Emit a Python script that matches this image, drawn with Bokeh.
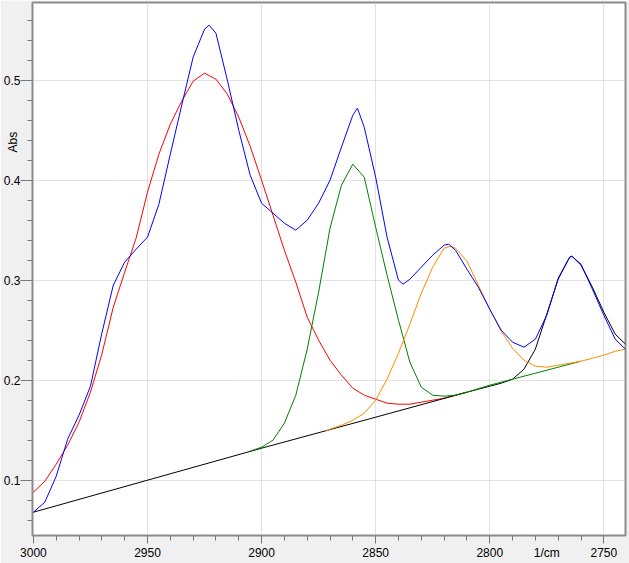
from bokeh.plotting import figure
from bokeh.models import Range1d, FixedTicker, LinearAxis
from bokeh.embed import file_html
from bokeh.resources import INLINE

# ---- data ----
blue_x = [3000, 2995, 2990, 2985, 2980, 2975, 2970, 2965, 2960, 2955, 2950, 2945, 2940,
          2935, 2930, 2925, 2923, 2920, 2915, 2910, 2905, 2900, 2895, 2890, 2885, 2880,
          2875, 2870, 2865, 2860, 2858, 2855, 2850, 2845, 2840, 2838, 2835, 2830, 2825,
          2820, 2818, 2815, 2810, 2805, 2800, 2795, 2790, 2785, 2780, 2775, 2770, 2765,
          2764, 2760, 2755, 2750, 2745, 2740.5]
blue_y = [0.068, 0.078, 0.104, 0.141, 0.165, 0.194, 0.247, 0.295, 0.318, 0.331, 0.343, 0.376, 0.426,
          0.475, 0.523, 0.551, 0.555, 0.547, 0.500, 0.450, 0.405, 0.377, 0.367, 0.357, 0.350, 0.360,
          0.377, 0.400, 0.433, 0.465, 0.472, 0.453, 0.403, 0.343, 0.300, 0.296, 0.301, 0.313, 0.325,
          0.335, 0.336, 0.330, 0.311, 0.293, 0.271, 0.250, 0.238, 0.233, 0.241, 0.265, 0.302, 0.323,
          0.324, 0.316, 0.291, 0.265, 0.241, 0.231]

red_x = [3000, 2995, 2990, 2985, 2980, 2975, 2970, 2965, 2960, 2955, 2950, 2945, 2940, 2935,
         2930, 2925, 2920, 2915, 2910, 2905, 2900, 2895, 2890, 2885, 2880, 2875, 2870, 2865,
         2860, 2855, 2850, 2845, 2840, 2835, 2830, 2825, 2820, 2815, 2810]
red_y = [0.088, 0.099, 0.116, 0.135, 0.158, 0.188, 0.226, 0.273, 0.308, 0.342, 0.388, 0.426, 0.456, 0.479,
         0.499, 0.507, 0.501, 0.486, 0.463, 0.434, 0.400, 0.365, 0.330, 0.298, 0.263, 0.240, 0.220, 0.205,
         0.192, 0.185, 0.181, 0.177, 0.176, 0.176, 0.178, 0.180, 0.182, 0.185, 0.188]

green_x = [2905, 2900, 2895, 2890, 2885, 2880, 2875, 2870, 2865, 2860, 2855, 2850, 2845,
           2840, 2835, 2830, 2825, 2820, 2815, 2810, 2800, 2790, 2780, 2770, 2760]
green_y = [0.129, 0.133, 0.140, 0.157, 0.185, 0.231, 0.288, 0.352, 0.395, 0.416, 0.403, 0.353, 0.305,
           0.260, 0.218, 0.193, 0.185, 0.184, 0.185, 0.188, 0.195, 0.201, 0.207, 0.213, 0.219]

orange_x = [2872, 2870, 2865, 2860, 2855, 2850, 2845, 2840, 2835, 2830, 2825, 2820, 2817, 2815,
            2810, 2805, 2800, 2795, 2790, 2785, 2780, 2775, 2770, 2765, 2760, 2755, 2750, 2745, 2740.5]
orange_y = [0.149, 0.151, 0.155, 0.160, 0.167, 0.180, 0.201, 0.227, 0.256, 0.287, 0.313, 0.332, 0.334, 0.332,
            0.319, 0.295, 0.271, 0.249, 0.232, 0.220, 0.214, 0.213, 0.215, 0.217, 0.219, 0.222, 0.225, 0.229, 0.231]

black_x = [3000, 2950, 2900, 2850, 2810, 2805, 2800, 2795, 2790, 2785, 2780, 2775, 2770, 2765,
           2764, 2760, 2755, 2750, 2745, 2740.5]
black_y = [0.068, 0.100, 0.132, 0.163, 0.188, 0.191, 0.194, 0.197, 0.201, 0.211, 0.231, 0.266, 0.301, 0.323,
           0.324, 0.315, 0.293, 0.268, 0.246, 0.236]

x_major = [3000, 2950, 2900, 2850, 2800, 2750]
x_minor = [3000 - 10 * i for i in range(27)]
y_major = [0.1, 0.2, 0.3, 0.4, 0.5]
y_minor = [round(0.06 + 0.02 * i, 2) for i in range(26)]
y_labels = ["0.1", "0.2", "0.3", "0.4", "0.5"]
x_labels = ["3000", "2950", "2900", "2850", "2800", "2750"]
x_title, x_title_at = "1/cm", 2775
y_title, y_title_at = "Abs", 0.438

FONT = "Liberation Sans"
TICK = "#787878"

p = figure(width=629, height=563, output_backend="svg", toolbar_location=None,
           x_range=Range1d(3000.4, 2740.5), y_range=Range1d(0.0447, 0.5777),
           min_border_left=32, min_border_right=4, min_border_top=2, min_border_bottom=28)
p.background_fill_color = "white"
p.border_fill_color = "#f0f0f0"
p.outline_line_color = "#8c8c8c"
p.outline_line_width = 2

for ax, maj, mnr, labs in ((p.xaxis[0], x_major, x_minor, x_labels),
                           (p.yaxis[0], y_major, y_minor, y_labels)):
    ax.ticker = FixedTicker(ticks=maj, minor_ticks=mnr)
    ax.major_label_overrides = {v: s for v, s in zip(maj, labs)}
    ax.axis_line_color = None
    ax.major_tick_in = 0
    ax.minor_tick_in = 0
    ax.minor_tick_out = 5
    ax.major_tick_line_color = TICK
    ax.minor_tick_line_color = TICK
    ax.major_label_text_font = FONT
    ax.major_label_text_font_size = "12px"
    ax.major_label_text_color = "black"
p.xaxis[0].major_tick_out = 8
p.yaxis[0].major_tick_out = 12
p.xaxis[0].major_label_standoff = 4
p.yaxis[0].major_label_standoff = 0


def title_axis(at, text, standoff, orientation):
    return LinearAxis(ticker=FixedTicker(ticks=[at]), major_label_overrides={at: text},
                      axis_line_color=None, major_tick_line_color=None,
                      minor_tick_line_color=None, major_tick_out=0, minor_tick_out=0,
                      major_label_standoff=standoff, major_label_orientation=orientation,
                      major_label_text_font=FONT, major_label_text_font_size="12px",
                      major_label_text_color="black")


p.add_layout(title_axis(y_title_at, y_title, -20, "vertical"), "left")
p.add_layout(title_axis(x_title_at, x_title, -14, "horizontal"), "below")

p.xgrid.ticker = FixedTicker(ticks=x_major)
p.ygrid.ticker = FixedTicker(ticks=y_major)
for g in (p.xgrid[0], p.ygrid[0]):
    g.grid_line_color = "#c4c4c4"
    g.grid_line_dash = "1 1"
    g.grid_line_width = 1

p.line(red_x, red_y, line_color="#ff0000", line_width=1)
p.line(black_x, black_y, line_color="#000000", line_width=1)
p.line(green_x, green_y, line_color="#008000", line_width=1)
p.line(orange_x, orange_y, line_color="#ff8c00", line_width=1)
p.line(blue_x, blue_y, line_color="#0000ff", line_width=1)

open("out.html", "w").write(file_html(p, INLINE))
